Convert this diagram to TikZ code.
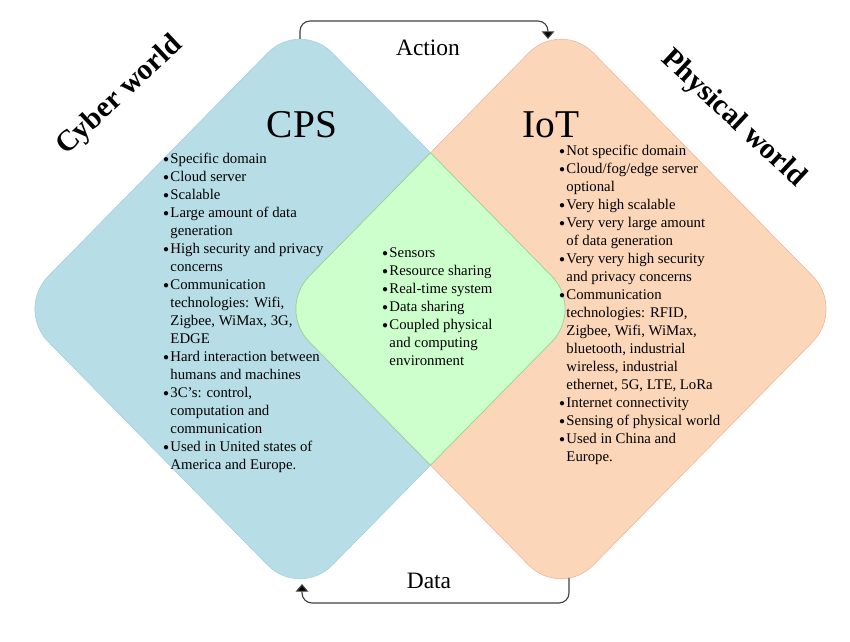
\documentclass[tikz,border=0pt]{standalone}
\usepackage{fontspec}
\setmainfont{Liberation Serif}
\usetikzlibrary{arrows.meta}
\definecolor{cpsblue}{RGB}{183,221,230}
\definecolor{cpsedge}{RGB}{165,208,220}
\definecolor{iotorange}{RGB}{251,214,184}
\definecolor{iotedge}{RGB}{240,180,160}
\definecolor{sharedgreen}{RGB}{204,255,204}
\definecolor{sharededge}{RGB}{150,210,150}
\newcommand{\bul}{\makebox[0.18cm][l]{\raisebox{0.15ex}{\scalebox{0.72}{$\bullet$}}}}
\newcommand{\ind}{\hspace*{0.18cm}}
\tikzset{
    cpsarea/.style={fill=cpsblue, draw=cpsedge, line width=0.4pt, rounded corners=1.15cm},
    iotarea/.style={fill=iotorange, draw=iotedge, line width=0.4pt, rounded corners=1.15cm},
    sharedarea/.style={fill=sharedgreen, draw=sharededge, line width=0.5pt, rounded corners=1.15cm},
    worldlbl/.style={font=\bfseries\fontsize{21}{24}\selectfont},
    titlelbl/.style={font=\fontsize{28}{32}\selectfont},
    flowlbl/.style={font=\fontsize{16.7}{20}\selectfont},
    featlist/.style={anchor=north west, inner sep=0pt, align=left, font=\fontsize{10.5}{12.8}\selectfont},
    flowarrow/.style={draw=black!75, line width=0.8pt, rounded corners=0.25cm, -{Triangle[width=9pt,length=5.5pt,fill=black]}},
}

\begin{document}
\begin{tikzpicture}[x=0.025cm, y=0.025cm]
    \useasboundingbox (0,0) rectangle (850,-642);
    % corners of the two worlds
    \coordinate (cpsN) at (300,-20);
    \coordinate (cpsE) at (584,-309);
    \coordinate (cpsS) at (300,-598);
    \coordinate (cpsW) at (16,-309);
    \coordinate (iotN) at (561,-20);
    \coordinate (iotE) at (845,-309);
    \coordinate (iotS) at (561,-598);
    \coordinate (iotW) at (277,-309);
    % areas
    \path[cpsarea] (cpsN) -- (cpsE) -- (cpsS) -- (cpsW) -- cycle;
    \path[iotarea] (iotN) -- (iotE) -- (iotS) -- (iotW) -- cycle;
    \begin{scope}
        \clip[rounded corners=1.15cm] (cpsN) -- (cpsE) -- (cpsS) -- (cpsW) -- cycle;
        \path[sharedarea] (iotN) -- (iotE) -- (iotS) -- (iotW) -- cycle;
    \end{scope}
    \begin{scope}
        \clip[rounded corners=1.15cm] (iotN) -- (iotE) -- (iotS) -- (iotW) -- cycle;
        \draw[sharededge, line width=0.5pt, rounded corners=1.15cm] (cpsN) -- (cpsE) -- (cpsS) -- (cpsW) -- cycle;
    \end{scope}
    % world labels
    \node[worldlbl, rotate=43]  (cyber)    at (120,-96)  {Cyber world};
    \node[worldlbl, rotate=-43] (physical) at (733,-119) {Physical world};
    \node[titlelbl] (cpstitle) at (302,-125) {CPS};
    \node[titlelbl] (iottitle) at (551,-125) {IoT};
    % feature lists
    \node[featlist] (cpslist) at (163,-153) {%
        \bul Specific domain\\
        \bul Cloud server\\
        \bul Scalable\\
        \bul Large amount of data\\
        \ind generation\\
        \bul High security and privacy\\
        \ind concerns\\
        \bul Communication\\
        \ind technologies: Wifi,\\
        \ind Zigbee, WiMax, 3G,\\
        \ind EDGE\\
        \bul Hard interaction between\\
        \ind humans and machines\\
        \bul 3C’s: control,\\
        \ind computation and\\
        \ind communication\\
        \bul Used in United states of\\
        \ind America and Europe.};
    \node[featlist] (iotlist) at (559,-145) {%
        \bul Not specific domain\\
        \bul Cloud/fog/edge server\\
        \ind optional\\
        \bul Very high scalable\\
        \bul Very very large amount\\
        \ind of data generation\\
        \bul Very very high security\\
        \ind and privacy concerns\\
        \bul Communication\\
        \ind technologies: RFID,\\
        \ind Zigbee, Wifi, WiMax,\\
        \ind bluetooth, industrial\\
        \ind wireless, industrial\\
        \ind ethernet, 5G, LTE, LoRa\\
        \bul Internet connectivity\\
        \bul Sensing of physical world\\
        \bul Used in China and\\
        \ind Europe.};
    \node[featlist] (sharedlist) at (382,-247) {%
        \bul Sensors\\
        \bul Resource sharing\\
        \bul Real-time system\\
        \bul Data sharing\\
        \bul Coupled physical\\
        \ind and computing\\
        \ind environment};
    % action and data flows
    \coordinate (cpstop) at (300,-39);
    \coordinate (iottop) at (548,-39);
    \coordinate (iotbot) at (569,-578);
    \coordinate (cpsbot) at (302,-584);
    \draw[flowarrow] (cpstop) -- ++(0,18) -| (iottop);
    \draw[flowarrow] (iotbot) -- ++(0,-25) -| (cpsbot);
    \node[flowlbl] (action) at (428,-48)  {Action};
    \node[flowlbl] (data)   at (429,-581) {Data};
\end{tikzpicture}
\end{document}
